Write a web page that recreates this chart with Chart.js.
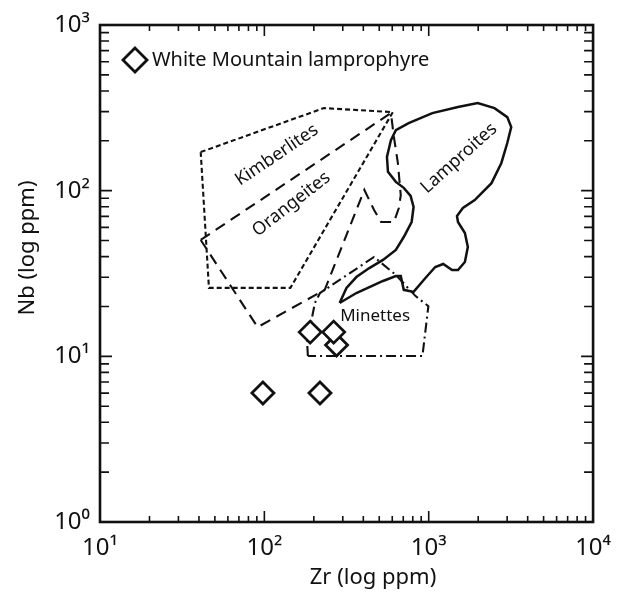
<!DOCTYPE html>
<html><head><meta charset="utf-8">
<script src="https://cdn.jsdelivr.net/npm/chart.js@4/dist/chart.umd.min.js"></script>
<style>html,body{margin:0;padding:0;background:#fff}</style>
</head><body>
<canvas id="c" width="623" height="592"></canvas>
<script>
// ---- axis ticks ----
const xTickValues = [10, 100, 1000, 10000];
const xTickLabels = ['10¹', '10²', '10³', '10⁴'];
const yTickValues = [1, 10, 100, 1000];
const yTickLabels = ['10⁰', '10¹', '10²', '10³'];
const minorMultipliers = [2, 3, 4, 5, 6, 7, 8, 9];

// ---- samples: White Mountain lamprophyre ----
const sampleZr = [275, 98, 218, 190, 264];
const sampleNb = [11.7, 6.0, 6.0, 14.0, 14.0];

// ---- field boundaries (Zr ppm, Nb ppm) ----
const kimberliteZr = [41, 230, 605, 144, 46];
const kimberliteNb = [171, 315, 298, 25.9, 25.9];

const orangeiteZr = [41, 589, 614, 649, 676, 658, 614, 513, 465, 406, 233, 91];
const orangeiteNb = [50.4, 294, 211, 147, 94, 78.6, 64.7, 64.7, 76.4, 101, 25.2, 15.0];

const lamproiteZr = [287, 363, 527, 631, 676, 705, 809, 955, 1096, 1225, 1387, 1507, 1660, 1730, 1660, 1507, 1486, 1614, 1905, 2410, 2767, 3006, 3177, 3006, 2512, 1986, 1507, 1052, 755, 631, 589, 557, 565, 631, 705, 776, 809, 787, 705, 631, 527, 435, 363, 316];
const lamproiteNb = [21.0, 24.1, 28.5, 30.5, 30.5, 25.2, 24.5, 29.7, 34.6, 36.1, 33.2, 33.2, 37.1, 45.7, 55.5, 64.7, 70.3, 78.6, 87.8, 111, 147, 194, 242, 278, 315, 338, 320, 294, 256, 232, 202, 160, 130, 113, 104, 92.9, 79.7, 64.7, 52.5, 43.9, 38.2, 34.1, 30.1, 25.9];

const minetteZr = [184, 182, 203, 218, 465, 631, 832, 995, 916];
const minetteNb = [10.05, 12.2, 21.0, 24.1, 39.8, 31.0, 23.1, 20.1, 10.05];

// ---- field labels ----
const regionNames = ['Kimberlites', 'Orangeites', 'Lamproites', 'Minettes'];
const regionLabelZr = [119, 146, 1528, 472];
const regionLabelNb = [164, 83, 157, 17.5];
const regionLabelAngle = [-34, -38, -42, 0];

const FONT = '"Noto Sans", "DejaVu Sans", sans-serif';
const INK = '#111';

function pts(xs, ys, close) {
  const p = xs.map((x, i) => ({x: x, y: ys[i]}));
  if (close) p.push({x: xs[0], y: ys[0]});
  return p;
}

function fieldDs(label, xs, ys, dash, width) {
  return {
    label: label, data: pts(xs, ys, true), showLine: true, fill: false,
    borderColor: INK, borderWidth: width, borderDash: dash,
    pointRadius: 0, pointHoverRadius: 0, tension: 0, order: 2
  };
}

const decorPlugin = {
  id: 'decor',
  afterDraw(chart) {
    const ctx = chart.ctx, a = chart.chartArea;
    const xs = chart.scales.x, ys = chart.scales.y;
    ctx.save();
    ctx.strokeStyle = INK;
    ctx.lineWidth = 1.6;
    ctx.beginPath();
    // x ticks (bottom + top)
    xTickValues.forEach((d, i) => {
      const p = xs.getPixelForValue(d);
      ctx.moveTo(p, a.bottom); ctx.lineTo(p, a.bottom - 11);
      ctx.moveTo(p, a.top); ctx.lineTo(p, a.top + 11);
      if (i < xTickValues.length - 1) {
        minorMultipliers.forEach(m => {
          const q = xs.getPixelForValue(d * m);
          ctx.moveTo(q, a.bottom); ctx.lineTo(q, a.bottom - 6);
          ctx.moveTo(q, a.top); ctx.lineTo(q, a.top + 6);
        });
      }
    });
    // y ticks (left + right)
    yTickValues.forEach((d, i) => {
      const p = ys.getPixelForValue(d);
      ctx.moveTo(a.left, p); ctx.lineTo(a.left + 12, p);
      ctx.moveTo(a.right, p); ctx.lineTo(a.right - 12, p);
      if (i < yTickValues.length - 1) {
        minorMultipliers.forEach(m => {
          const q = ys.getPixelForValue(d * m);
          ctx.moveTo(a.left, q); ctx.lineTo(a.left + 9, q);
          ctx.moveTo(a.right, q); ctx.lineTo(a.right - 9, q);
        });
      }
    });
    ctx.stroke();
    // frame
    ctx.lineWidth = 2.6;
    ctx.strokeRect(a.left, a.top, a.right - a.left, a.bottom - a.top);

    // field labels
    ctx.fillStyle = INK;
    ctx.font = '18px ' + FONT;
    ctx.textAlign = 'center';
    ctx.textBaseline = 'middle';
    regionNames.forEach((n, i) => {
      ctx.save();
      ctx.translate(xs.getPixelForValue(regionLabelZr[i]), ys.getPixelForValue(regionLabelNb[i]));
      ctx.rotate(regionLabelAngle[i] * Math.PI / 180);
      ctx.font = (i === 3 ? '17px ' : '18px ') + FONT;
      ctx.fillText(n, 0, 0);
      ctx.restore();
    });

    // axis titles
    ctx.font = '22px ' + FONT;
    ctx.fillText('Zr (log ppm)', a.left + 273, a.bottom + 56);
    ctx.save();
    ctx.translate(a.left - 72, a.top + 223);
    ctx.rotate(-Math.PI / 2);
    ctx.fillText('Nb (log ppm)', 0, 0);
    ctx.restore();
    ctx.restore();
  }
};

new Chart(document.getElementById('c'), {
  type: 'scatter',
  data: {
    datasets: [
      fieldDs('Kimberlites', kimberliteZr, kimberliteNb, [5, 3], 2.1),
      fieldDs('Orangeites', orangeiteZr, orangeiteNb, [11, 7], 2.1),
      fieldDs('Lamproites', lamproiteZr, lamproiteNb, [], 2.5),
      fieldDs('Minettes', minetteZr, minetteNb, [10, 4, 2, 4], 2.1),
      {
        label: 'White Mountain lamprophyre',
        data: pts(sampleZr, sampleNb, false),
        pointStyle: 'rectRot', pointRadius: 11, pointHoverRadius: 11,
        pointBorderWidth: 2.8, pointBorderColor: INK, pointBackgroundColor: '#fff',
        borderColor: INK, backgroundColor: '#fff', showLine: false, order: 1
      }
    ]
  },
  options: {
    responsive: false, animation: false,
    layout: {padding: {top: 25, right: 23, left: 0, bottom: 0}},
    plugins: {
      tooltip: {enabled: false},
      legend: {
        position: 'chartArea', align: 'start',
        title: {display: true, text: ' ', font: {size: 1, lineHeight: 1}, padding: {top: 21, bottom: 0}},
        labels: {
          usePointStyle: true, boxWidth: 14, boxHeight: 17, padding: 28,
          color: INK, font: {size: 20, family: FONT},
          filter: (item) => item.datasetIndex === 4
        }
      }
    },
    scales: {
      x: {
        type: 'logarithmic', min: 10, max: 10000,
        grid: {display: false, drawTicks: false}, border: {display: false},
        afterBuildTicks: (s) => { s.ticks = xTickValues.map(v => ({value: v})); },
        afterFit: (s) => { s.height = 70; },
        ticks: {
          color: INK, padding: 12, maxRotation: 0, autoSkip: false,
          font: {size: 24, family: FONT},
          callback: (v) => { const i = xTickValues.indexOf(v); return i >= 0 ? xTickLabels[i] : ''; }
        }
      },
      y: {
        type: 'logarithmic', min: 1, max: 1000,
        grid: {display: false, drawTicks: false}, border: {display: false},
        afterBuildTicks: (s) => { s.ticks = yTickValues.map(v => ({value: v})); },
        afterFit: (s) => { s.width = 100; },
        ticks: {
          color: INK, padding: 10, autoSkip: false,
          font: {size: 24, family: FONT},
          callback: (v) => { const i = yTickValues.indexOf(v); return i >= 0 ? yTickLabels[i] : ''; }
        }
      }
    }
  },
  plugins: [decorPlugin]
});
</script>
</body></html>
